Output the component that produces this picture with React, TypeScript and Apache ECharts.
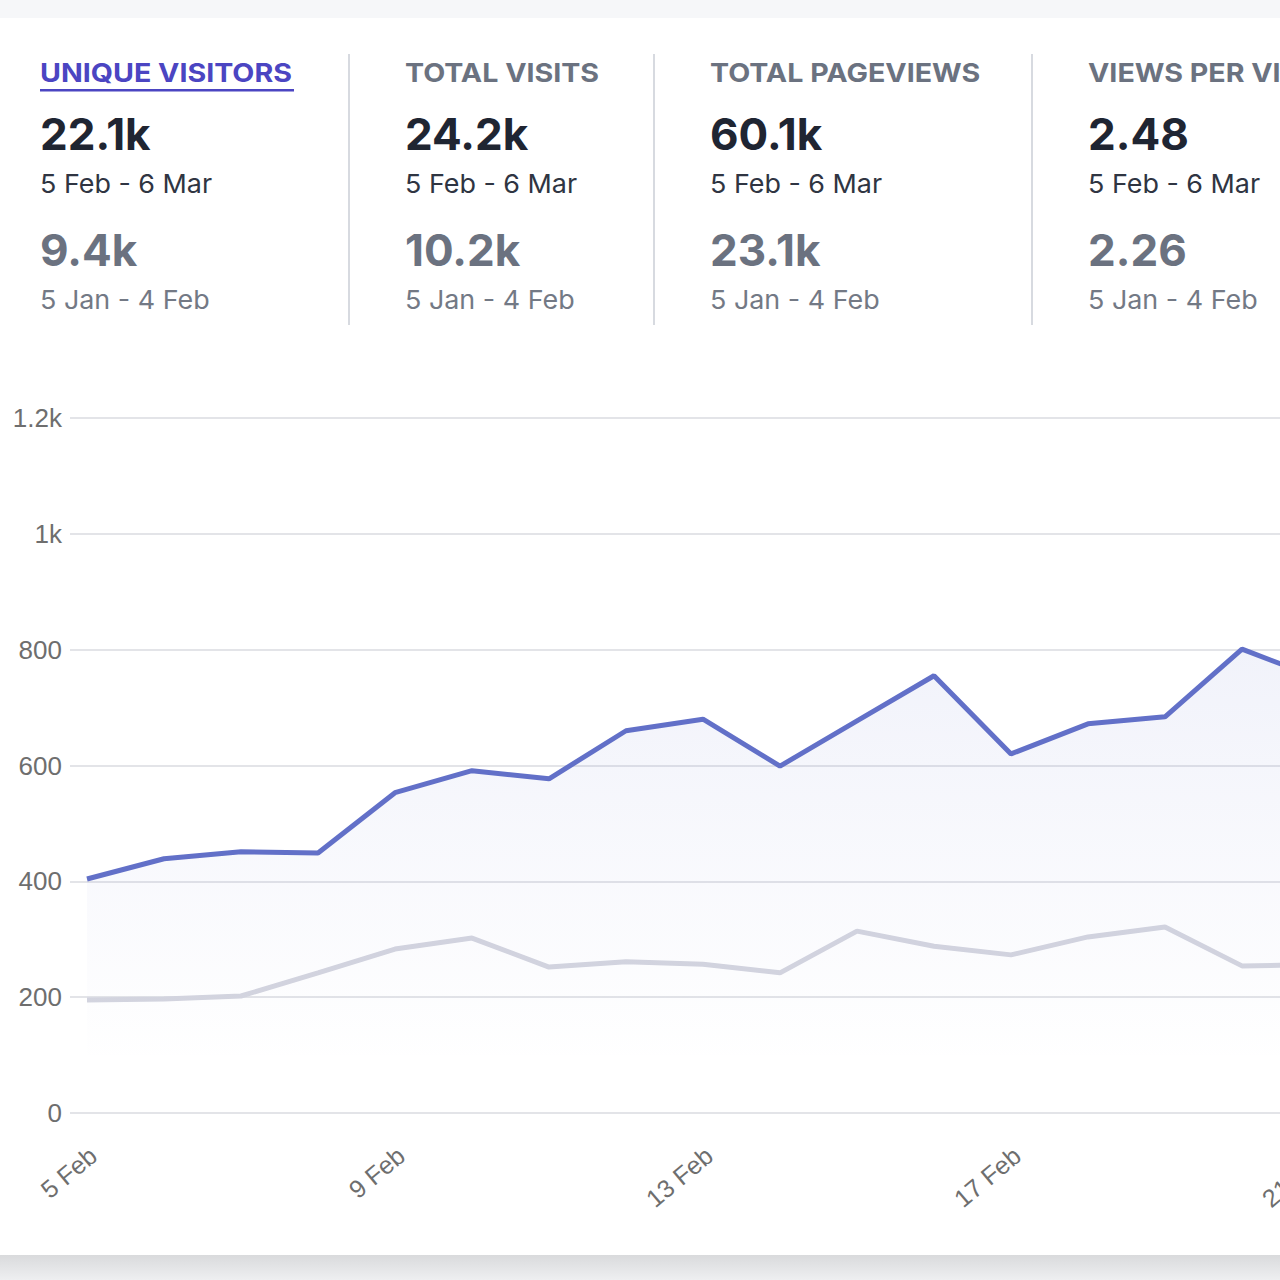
import React, { useEffect, useRef } from "react";
import * as echarts from "echarts";

// ---- data ----
const days = [
  "5 Feb", "6 Feb", "7 Feb", "8 Feb", "9 Feb", "10 Feb", "11 Feb", "12 Feb", "13 Feb",
  "14 Feb", "15 Feb", "16 Feb", "17 Feb", "18 Feb", "19 Feb", "20 Feb", "21 Feb",
];
const currentVisitors = [404, 439, 451, 449, 553, 591, 577, 660, 680, 599, 677, 755, 620, 672, 684, 801, 750];
const previousVisitors = [195, 197, 202, 242, 283, 302, 252, 261, 257, 242, 314, 288, 273, 304, 321, 254, 256];

const metricTitles = ["UNIQUE VISITORS", "TOTAL VISITS", "TOTAL PAGEVIEWS", "VIEWS PER VISIT"];
const currentTotals = ["22.1k", "24.2k", "60.1k", "2.48"];
const previousTotals = ["9.4k", "10.2k", "23.1k", "2.26"];
const currentRange = "5 Feb - 6 Mar";
const previousRange = "5 Jan - 4 Feb";

const yMin = 0;
const yMax = 1200;
const yStep = 200;

// ---- layout ----
const CHART_W = 1400;
const CHART_H = 1280;
const colX = [40, 405, 710, 1088];
const dividerX = [349, 654, 1032];
const HEADER_FONT = "Inter, 'Noto Sans', sans-serif";
const AXIS_FONT = "'Liberation Sans', Arial, sans-serif";

function headerText(text: string, x: number, y: number, font: string, fill: string, sx: number) {
  return {
    type: "text",
    z: 100,
    x,
    y,
    scaleX: sx,
    style: {
      text,
      x: 0,
      y: 0,
      font,
      fill,
      textAlign: "left",
      textVerticalAlign: "middle",
    },
  };
}

export default function App() {
  const ref = useRef<HTMLDivElement>(null);

  useEffect(() => {
    if (!ref.current) return;
    const chart = echarts.init(ref.current, undefined, { renderer: "svg" });

    const graphics: any[] = [];
    metricTitles.forEach((t, i) => {
      const x = colX[i];
      const active = i === 0;
      graphics.push(headerText(t, x, 73, `bold 26px ${HEADER_FONT}`, active ? "#4b45c2" : "#6b7280", 1.1));
      graphics.push(headerText(currentTotals[i], x, 134, `bold 44px ${HEADER_FONT}`, "#1f2532", 1.0));
      graphics.push(headerText(currentRange, x, 183, `26px ${HEADER_FONT}`, "#2f3542", 1.035));
      graphics.push(headerText(previousTotals[i], x, 250, `bold 44px ${HEADER_FONT}`, "#6b7280", 1.0));
      graphics.push(headerText(previousRange, x, 299, `26px ${HEADER_FONT}`, "#737985", 1.035));
    });
    graphics.push({
      type: "rect",
      z: 100,
      shape: { x: 40, y: 89, width: 254, height: 2.5 },
      style: { fill: "#4b45c2" },
    });
    dividerX.forEach((x) => {
      graphics.push({
        type: "line",
        z: 100,
        shape: { x1: x, y1: 54, x2: x, y2: 325 },
        style: { stroke: "#d7dae0", lineWidth: 2 },
      });
    });

    const gridLeft = 87;
    const gridRight = CHART_W - 1319;
    const gridTop = 418;
    const gridBottom = CHART_H - 1113;

    chart.setOption({
      animation: false,
      backgroundColor: "transparent",
      graphic: graphics,
      grid: { left: gridLeft, right: gridRight, top: gridTop, bottom: gridBottom, containLabel: false },
      xAxis: {
        type: "category",
        data: days,
        boundaryGap: false,
        axisLine: { show: false },
        axisTick: { show: false },
        splitLine: { show: false },
        axisLabel: {
          interval: 3,
          rotate: 40,
          margin: 44,
          padding: [0, -8, 0, 0],
          color: "#6e6e6e",
          fontSize: 25,
          fontFamily: AXIS_FONT,
        },
      },
      yAxis: {
        type: "value",
        min: yMin,
        max: yMax,
        interval: yStep,
        axisLine: { show: false },
        axisTick: { show: true, length: 17, lineStyle: { color: "#e3e4e8", width: 2 } },
        splitLine: { show: true, lineStyle: { color: "#e3e4e8", width: 2 } },
        axisLabel: {
          margin: 25,
          color: "#6e6e6e",
          fontSize: 26,
          fontFamily: AXIS_FONT,
          formatter: (v: number) => (v >= 1000 ? `${v / 1000}k` : `${v}`),
        },
      },
      series: [
        {
          name: "Current",
          type: "line",
          data: currentVisitors,
          symbol: "none",
          z: 3,
          lineStyle: { color: "#6270c8", width: 5 },
          areaStyle: {
            origin: "start",
            color: new echarts.graphic.LinearGradient(
              0, 418, 0, 1065,
              [
                { offset: 0, color: "rgba(101,116,205,0.2)" },
                { offset: 1, color: "rgba(101,116,205,0)" },
              ],
              true
            ),
          },
        },
        {
          name: "Previous",
          type: "line",
          data: previousVisitors,
          symbol: "none",
          z: 2,
          lineStyle: { color: "#d4d5df", width: 5 },
        },
      ],
    });

    return () => chart.dispose();
  }, []);

  return (
    <div
      style={{
        position: "absolute",
        left: 0,
        top: 0,
        width: 1280,
        height: 1280,
        overflow: "hidden",
        background: "#f6f7f9",
      }}
    >
      <div style={{ position: "absolute", left: 0, top: 18, width: 1280, height: 1237, background: "#ffffff" }} />
      <div
        style={{
          position: "absolute",
          left: 0,
          top: 1255,
          width: 1280,
          height: 25,
          background: "linear-gradient(#d9dadc, #eeeff1)",
        }}
      />
      <div ref={ref} style={{ position: "absolute", left: 0, top: 0, width: CHART_W, height: CHART_H }} />
    </div>
  );
}
